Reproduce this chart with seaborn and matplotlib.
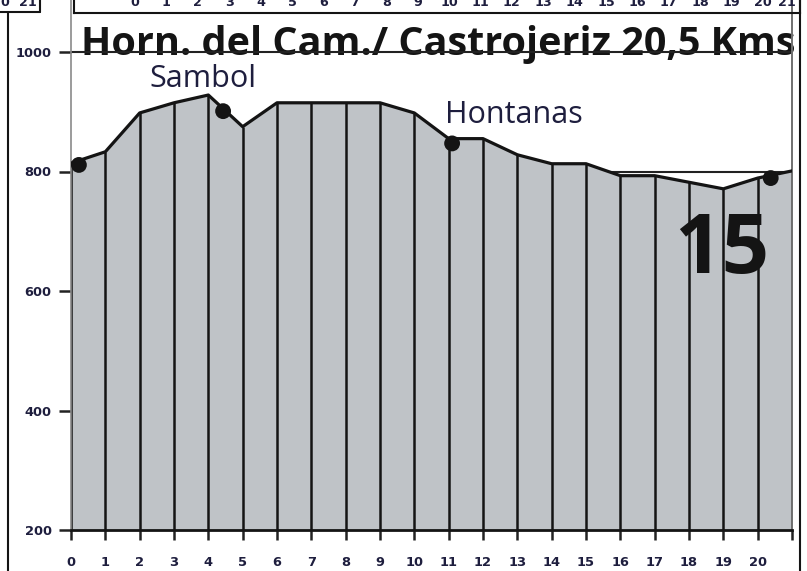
import matplotlib
matplotlib.use("Agg")
import matplotlib.pyplot as plt
import seaborn as sns
import pandas as pd
from matplotlib import font_manager
from matplotlib.lines import Line2D

# ---------------- data ----------------
km = list(range(22))
elevation = [814, 833, 898, 915, 928, 875, 915, 915, 915, 915, 898,
             855, 855, 828, 813, 813, 793, 793, 782, 771, 789, 801]
town_km = [0.23, 4.43, 11.1, 20.38]
town_elev = [811, 901, 847, 789]
place_names = ["Sambol", "Hontanas"]
y_ticks = [200, 400, 600, 800, 1000]
x_tick_labels = [str(i) for i in range(21)] + [""]
top_tick_labels = [str(i) for i in range(22)]
title = "Horn. del Cam./ Castrojeriz 20,5 Kms"
stage = "15"

# ---------------- fonts ----------------
sns.set_theme(style="white")
avail = {f.name for f in font_manager.fontManager.ttflist}
def pick(cands):
    for c in cands:
        if c in avail:
            return c
    return "DejaVu Sans"
narrow = pick(["Liberation Sans Narrow", "Open Sans", "Liberation Sans"])
sans = pick(["Open Sans", "Noto Sans", "Liberation Sans"])
plt.rcParams["font.family"] = ["DejaVu Sans"]
title_size = 30 if narrow == "Liberation Sans Narrow" else 28.5

navy = "#1e1e3e"
ink = "#141414"
fill_c = "#bfc3c7"

df = pd.DataFrame({"km": km, "elev": elevation})
towns = pd.DataFrame({"km": town_km, "elev": town_elev})

W, H = 807, 571
fig = plt.figure(figsize=(W / 100, H / 100), dpi=100)
ax = fig.add_axes([71 / W, 41 / H, (792 - 71) / W, 530 / H])
ax.set_xlim(0, 21)
ax.set_ylim(200, 200 + 530 / 0.5975)

# grid (below fill)
ax.set_axisbelow(True)
ax.yaxis.grid(True, color="#222222", lw=1.5)
ax.xaxis.grid(False)

ax.fill_between(df["km"], 200, df["elev"], color=fill_c, lw=0, zorder=1)
ax.vlines(df["km"], 200, df["elev"], color=ink, lw=1.8, zorder=2)
sns.lineplot(data=df, x="km", y="elev", ax=ax, color=ink, lw=2.3, zorder=3)
sns.scatterplot(data=towns, x="km", y="elev", ax=ax, color=ink, s=130,
                edgecolor="none", zorder=4)

# texts
ax.text(0.29, 995, title, fontsize=title_size, fontweight="bold", family=narrow,
        color=ink, ha="left", va="baseline", zorder=0.4, clip_on=False)
ax.text(3.83, 942, place_names[0], fontsize=22, family=sans, color=navy,
        ha="center", va="baseline", zorder=5)
ax.text(12.9, 882, place_names[1], fontsize=22, family=sans, color=navy,
        ha="center", va="baseline", zorder=5)
ax.text(18.95, 630, stage, fontsize=60, fontweight="bold", family=sans,
        color=ink, ha="center", va="baseline", zorder=1.5)

# axes styling
ax.set_xticks(km)
ax.set_xticklabels(x_tick_labels)
ax.set_yticks(y_ticks)
ax.set_yticklabels([str(v) for v in y_ticks])
ax.set_xlabel("")
ax.set_ylabel("")
for lab in ax.get_xticklabels() + ax.get_yticklabels():
    lab.set_fontweight("bold")
    lab.set_color(navy)
ax.tick_params(axis="y", direction="out", length=9, width=1.8, color="#222222",
               pad=5, labelsize=9.4, left=True)
ax.tick_params(axis="x", direction="out", length=7, width=1.8, color="#222222",
               pad=12, labelsize=9.4, bottom=True)
ax.spines["top"].set_visible(False)
ax.spines["left"].set_color("#8a8a8a")
ax.spines["left"].set_linewidth(1.2)
ax.spines["right"].set_color("#707070")
ax.spines["right"].set_linewidth(1.4)
ax.spines["bottom"].set_color(ink)
ax.spines["bottom"].set_linewidth(2)

# top strip (remnant of the previous stage's axis)
axt = fig.add_axes([74 / W, (H - 13) / H, (800 - 74) / W, 40 / H])
axt.set_xlim(-(135 - 74) / 31.4, -(135 - 74) / 31.4 + 726 / 31.4)
axt.set_ylim(0, 1)
axt.set_xticks(list(range(21)) + [20.75])
axt.set_xticklabels(top_tick_labels)
axt.set_yticks([])
for lab in axt.get_xticklabels():
    lab.set_fontweight("bold")
    lab.set_color(navy)
axt.tick_params(axis="x", length=0, pad=-12, labelsize=9.2)
axt.patch.set_alpha(0)
axt.spines["top"].set_visible(False)
for s in ["left", "right", "bottom"]:
    axt.spines[s].set_color(ink)
    axt.spines[s].set_linewidth(1.5)

# left remnant and page frame
fig.text(5 / W, 1 - 3 / H, "0", fontsize=9.2, fontweight="bold", color=navy,
         ha="center", va="center")
fig.text(28 / W, 1 - 3 / H, "21", fontsize=9.2, fontweight="bold", color=navy,
         ha="center", va="center")
fig.add_artist(Line2D([0, 40 / W], [1 - 12 / H, 1 - 12 / H], color=ink, lw=1.5))
fig.add_artist(Line2D([40 / W, 40 / W], [1 - 12 / H, 1], color=ink, lw=1.5))
fig.add_artist(Line2D([8 / W, 8 / W], [0, 1 - 12 / H], color=ink, lw=1.5))
fig.add_artist(Line2D([800 / W, 800 / W], [0, 1], color=ink, lw=1.5))

fig.savefig("out.png", dpi=100)
